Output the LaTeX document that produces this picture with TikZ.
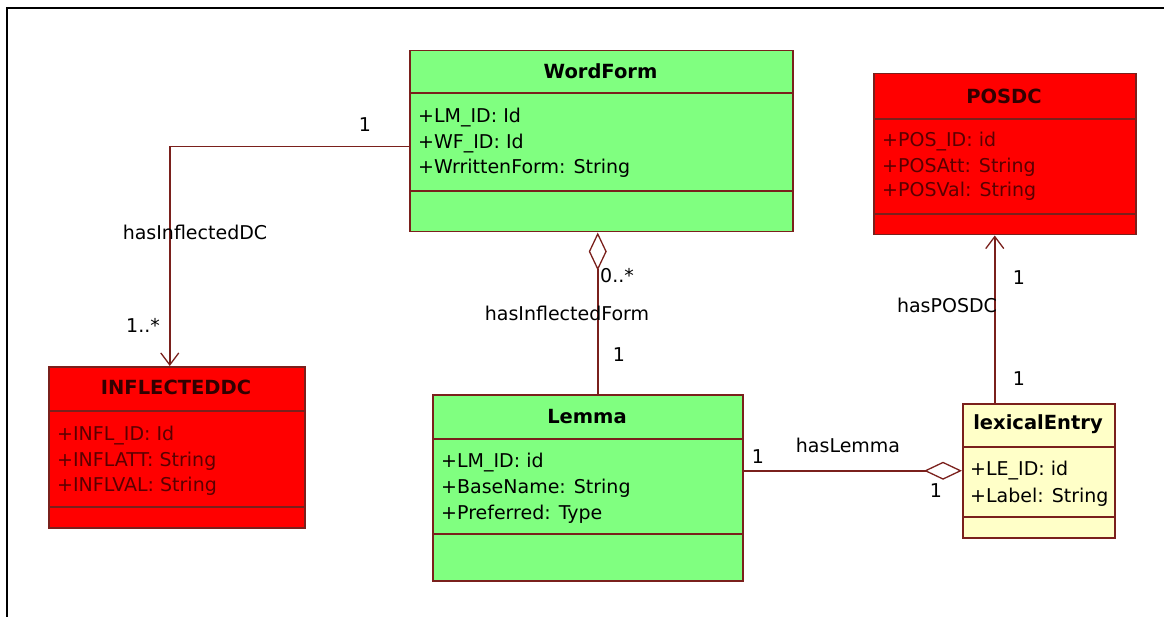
\documentclass[tikz,border=0pt]{standalone}
\usepackage{fontspec}
\setmainfont{DejaVu Sans}
\usetikzlibrary{arrows.meta}

\definecolor{umlline}{RGB}{122,32,28}
\definecolor{clsgreen}{RGB}{128,255,128}
\definecolor{clsred}{RGB}{255,0,0}
\definecolor{clsyellow}{RGB}{255,255,200}
\definecolor{redtitle}{RGB}{50,0,0}
\definecolor{redtext}{RGB}{90,0,0}

\begin{document}
\begin{tikzpicture}[x=1pt,y=-1pt,
  cls/.style={draw=umlline, line width=1.5pt, rectangle, inner sep=0pt, anchor=north west},
  divider/.style={draw=umlline, line width=1.3pt},
  clstitle/.style={font=\bfseries\fontsize{19.5}{22}\selectfont, inner sep=0pt, anchor=base},
  attr/.style={font=\fontsize{19}{22}\selectfont, inner sep=0pt, anchor=base west},
  lbl/.style={font=\fontsize{19}{22}\selectfont, inner sep=0pt, anchor=base},
  assoc/.style={draw=umlline, line width=1.5pt},
  navarrow/.style={-{Straight Barb[length=12pt,width=18pt,line width=1.3pt]}},
  aggregation/.style={{Diamond[open,length=38pt,width=18pt,line width=1.3pt]}-},
]
\useasboundingbox (0,0) rectangle (1164,617);

% page frame (left and top edges)
\draw[line width=2.5pt] (7,617) -- (7,8) -- (1165,8);

% ---- WordForm ----
\node[cls, fill=clsgreen, minimum width=383pt, minimum height=181pt] (wf) at (409,50) {};
\draw[divider] (409,93) -- (792,93);
\draw[divider] (409,191) -- (792,191);
\node[clstitle] (wft) at (600.5,79) {WordForm};
\node[attr] (wfa1) at (418,123) {+LM\_ID: Id};
\node[attr] (wfa2) at (418,149) {+WF\_ID: Id};
\node[attr] (wfa3) at (418,174) {+WrrittenForm: String};

% ---- POSDC ----
\node[cls, fill=clsred, minimum width=262pt, minimum height=161pt] (pos) at (873,73) {};
\draw[divider] (873,119) -- (1135,119);
\draw[divider] (873,214) -- (1135,214);
\node[clstitle, text=redtitle] (post) at (1004,103.5) {POSDC};
\node[attr, text=redtext] (posa1) at (882,147) {+POS\_ID: id};
\node[attr, text=redtext] (posa2) at (882,173) {+POSAtt: String};
\node[attr, text=redtext] (posa3) at (882,197) {+POSVal: String};

% ---- INFLECTEDDC ----
\node[cls, fill=clsred, minimum width=256pt, minimum height=161pt] (infl) at (48,366) {};
\draw[divider] (48,411) -- (304,411);
\draw[divider] (48,507) -- (304,507);
\node[clstitle, text=redtitle] (inflt) at (176,394.5) {INFLECTEDDC};
\node[attr, text=redtext] (infla1) at (57,440) {+INFL\_ID: Id};
\node[attr, text=redtext] (infla2) at (57,466) {+INFLATT: String};
\node[attr, text=redtext] (infla3) at (57,491) {+INFLVAL: String};

% ---- Lemma ----
\node[cls, fill=clsgreen, minimum width=310pt, minimum height=186pt] (lem) at (432,394) {};
\draw[divider] (432,439) -- (742,439);
\draw[divider] (432,534) -- (742,534);
\node[clstitle] (lemt) at (587,423.5) {Lemma};
\node[attr] (lema1) at (441,467) {+LM\_ID: id};
\node[attr] (lema2) at (441,493) {+BaseName: String};
\node[attr] (lema3) at (441,519) {+Preferred: Type};

% ---- lexicalEntry ----
\node[cls, fill=clsyellow, minimum width=152pt, minimum height=134pt] (lex) at (962,403) {};
\draw[divider] (962,447) -- (1114,447);
\draw[divider] (962,517) -- (1114,517);
\node[clstitle] (lext) at (1038,429.5) {lexicalEntry};
\node[attr] (lexa1) at (970,475) {+LE\_ID: id};
\node[attr] (lexa2) at (970,502) {+Label: String};

% ---- associations ----
% WordForm -> INFLECTEDDC
\draw[assoc, navarrow] ([yshift=-5.5pt]wf.west) -| ([xshift=-7pt]infl.north);
\node[lbl] (l1) at (365,132) {1};
\node[lbl] (l2) at (195,240) {hasInflectedDC};
\node[lbl] (l3) at (143,333) {1..*};

% WordForm <>-- Lemma
\coordinate (wfb) at ([xshift=-3.5pt]wf.south);
\draw[assoc, aggregation] (wfb) -- (wfb |- lem.north);
\node[attr] (l4) at (600,283) {0..*};
\node[lbl] (l5) at (567,321) {hasInflectedForm};
\node[lbl] (l6) at (619,362) {1};

% Lemma --<> lexicalEntry
\draw[assoc, aggregation] (lex.west) -- (lex.west -| lem.east);
\node[lbl] (l7) at (758,463) {1};
\node[lbl] (l8) at (848,452) {hasLemma};
\node[lbl] (l9) at (936,497) {1};

% lexicalEntry -> POSDC
\coordinate (posb) at ([xshift=-10pt]pos.south);
\draw[assoc, navarrow] (posb |- lex.north) -- (posb);
\node[lbl] (l10) at (1019,285) {1};
\node[lbl] (l11) at (947,313) {hasPOSDC};
\node[lbl] (l12) at (1019,385) {1};
\end{tikzpicture}
\end{document}
